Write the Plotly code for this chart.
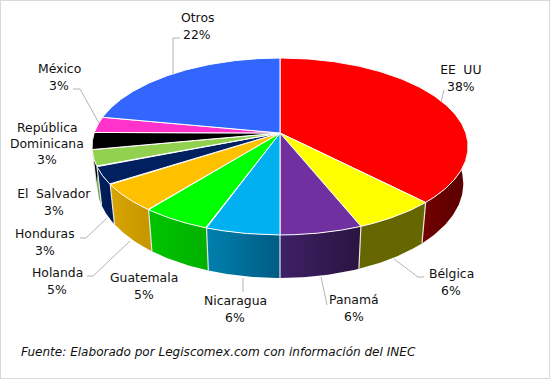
import numpy as np
import plotly.graph_objects as go

# Data
names = ["EE UU", "Bélgica", "Panamá", "Nicaragua", "Guatemala", "Holanda",
         "Honduras", "El Salvador", "República Dominicana", "México", "Otros"]
shares = [37.7, 6.2, 6.1, 5.5, 5.2, 5.1, 3.2, 3.0, 3.1, 2.9, 22.0]
percent_labels = ["38%", "6%", "6%", "6%", "5%", "5%", "3%", "3%", "3%", "3%", "22%"]
top_colors = ["#FF0000", "#FFFF00", "#7030A0", "#00B0F0", "#00FF00", "#FFC000",
              "#002060", "#92D050", "#000000", "#FF33CC", "#3366FF"]
side_left = ["#700000", "#666600", "#3E2066", "#0080AE", "#00C400", "#D9A500",
             "#002060", "#7FB048", "#000000", "#A02080", "#2040A0"]
side_right = ["#5A0000", "#666600", "#2A1440", "#005C84", "#00B000", "#C49500",
              "#001A50", "#70A040", "#000000", "#A02080", "#2040A0"]

# label name lines and centres
label_lines = [["EE UU"], ["Bélgica"], ["Panamá"], ["Nicaragua"], ["Guatemala"], ["Holanda"],
               ["Honduras"], ["El Salvador"], ["República", "Dominicana"], ["México"], ["Otros"]]
label_x = [461, 451, 354, 235, 144, 57, 45, 54, 47, 59, 197]
label_y = [69, 273, 299, 300, 277, 272, 233, 193, 127, 68, 17]
leaders = [[(441, 102), (444, 90)],
           [(394, 259), (418, 277), (424, 277)],
           [(321, 277), (327, 305)],
           [(243, 278), (243, 292)],
           [],
           [(130, 241), (93, 276), (87, 276)],
           [(107, 218), (86, 238), (80, 238)],
           [],
           [],
           [(99, 123), (80, 89), (73, 89)],
           [(173, 74), (173, 38), (180, 38)]]
source_text = "Fuente: Elaborado por Legiscomex.com con información del INEC"

# Projection of the tilted disc
CX, CY, R, K, C = 280.0, 133.0, 185.8, 86.4, -0.1525
DEPTH, SHRINK = 36.5, 0.975


def top_xy(theta):
    u, v = np.sin(theta), -np.cos(theta)
    w = 1 + C * v
    return CX + R * u / w, CY + K * v / w


def bottom_xy(theta):
    x, y = top_xy(theta)
    w = 1 + C * (-np.cos(theta))
    return CX + (x - CX) * SHRINK, y + DEPTH / w


edges = np.cumsum([0] + shares) / sum(shares) * 2 * np.pi
fig = go.Figure()

# Side walls (only the part that faces the viewer)
VIS_A, VIS_B = np.pi / 2, 3 * np.pi / 2
for i in range(len(shares)):
    a, b = max(edges[i], VIS_A), min(edges[i + 1], VIS_B)
    if b <= a:
        continue
    th = np.linspace(a, b, 60)
    xt, yt = top_xy(th)
    xb, yb = bottom_xy(th[::-1])
    fig.add_trace(go.Scatter(
        x=np.r_[xt, xb], y=np.r_[yt, yb], mode="lines", fill="toself",
        line=dict(width=0, color="rgba(0,0,0,0)"),
        fillgradient=dict(type="horizontal",
                          colorscale=[[0, side_left[i]], [1, side_right[i]]]),
        hoverinfo="skip", showlegend=False))

# White separators on the wall
for e in edges:
    if VIS_A < e < VIS_B:
        x0, y0 = top_xy(e)
        x1, y1 = bottom_xy(e)
        fig.add_trace(go.Scatter(x=[x0, x1], y=[y0, y1], mode="lines",
                                 line=dict(color="#E6E6E6", width=1.2),
                                 hoverinfo="skip", showlegend=False))

# Top slices
for i in range(len(shares)):
    th = np.linspace(edges[i], edges[i + 1], 160)
    x, y = top_xy(th)
    fig.add_trace(go.Scatter(
        x=np.r_[CX, x, CX], y=np.r_[CY, y, CY], mode="lines", fill="toself",
        fillcolor=top_colors[i], line=dict(color="white", width=1),
        name=names[i], hoverinfo="skip", showlegend=False))

# Leader lines
for pts in leaders:
    if pts:
        fig.add_trace(go.Scatter(x=[p[0] for p in pts], y=[p[1] for p in pts], mode="lines",
                                 line=dict(color="#B3B3B3", width=1),
                                 hoverinfo="skip", showlegend=False))

STEP = 17.3


def label(x, y, text, size=12.4, xanchor="center"):
    fig.add_annotation(x=x, y=y, text=text, showarrow=False, xref="x", yref="y",
                       xanchor=xanchor, yanchor="middle",
                       font=dict(family="DejaVu Sans", size=size, color="#111111"), borderpad=0)


for i, lines in enumerate(label_lines):
    yy = label_y[i]
    for ln in lines:
        label(label_x[i], yy, ln)
        yy += STEP - 1 if len(lines) > 1 else STEP
    label(label_x[i], yy, percent_labels[i])

label(20, 352, f"<i>{source_text}</i>", size=12.05, xanchor="left")

fig.update_layout(
    width=550, height=379, autosize=False,
    margin=dict(l=0, r=0, t=0, b=0),
    paper_bgcolor="white", plot_bgcolor="white",
    xaxis=dict(range=[0, 550], visible=False, fixedrange=True),
    yaxis=dict(range=[379, 0], visible=False, fixedrange=True),
    shapes=[dict(type="rect", xref="paper", yref="paper", x0=0, y0=0, x1=1, y1=1,
                 line=dict(color="#D9D9D9", width=2), fillcolor="rgba(0,0,0,0)")],
)
post = """
document.body.style.margin='0';document.body.style.overflow='hidden';
document.querySelectorAll('.annotation-text').forEach(function(t){
  if(t.textContent==='EE UU'||t.textContent==='El Salvador'){t.style.wordSpacing='3.5px';}
});
"""
fig.write_html("out.html", config=dict(displayModeBar=False, responsive=False), post_script=post)
